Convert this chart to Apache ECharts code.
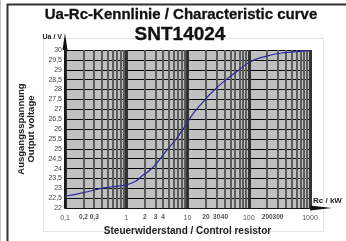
<!DOCTYPE html>
<html><head><meta charset="utf-8">
<script src="https://cdn.jsdelivr.net/npm/echarts@6/dist/echarts.min.js"></script>
<style>html,body{margin:0;padding:0;background:#fff}#c{width:346px;height:241px}</style>
</head><body><div id="c"></div>
<script>
// curve data: control resistor (kΩ) vs output voltage (V)
var resistance = [0.1, 0.2, 0.37, 0.6, 1, 1.4, 1.88, 2.5, 3.1, 4.5, 6.55, 8.9, 12.2, 17.7, 25.8, 42.6, 70, 102, 190, 355, 1000];
var voltage    = [22.6, 22.78, 22.98, 23.08, 23.18, 23.35, 23.67, 23.95, 24.25, 24.9, 25.5, 26.1, 26.75, 27.35, 27.9, 28.5, 29.0, 29.38, 29.68, 29.85, 29.97];
// grid / tick values
var minorLines = [0.2,0.3,0.4,0.5,0.6,0.7,0.8,0.9, 2,3,4,5,6,7,8,9, 20,30,40,50,60,70,80,90, 200,300,400,500,600,700,800,900];
var boldTickValues = [0.2, 0.3, 2, 3, 4, 20, 30, 40, 200, 300];
var boldTickLabels = ['0,2','0,3','2','3','4','20','30','40','200','300'];
var yMin = 22, yMax = 30, yStep = 0.5;
var xMin = 0.1, xMax = 1000;

var chart = echarts.init(document.getElementById('c'), null, {renderer:'canvas'});
var font = 'Liberation Sans, Arial, sans-serif';
chart.setOption({
  animation:false,
  backgroundColor:'#fff',
  grid:{left:65, right:36, top:50, bottom:31, show:true, backgroundColor:'#c0c0c0', borderWidth:0},
  graphic:[
    {type:'rect', shape:{x:43.5,y:38.5,width:280,height:193}, style:{fill:'none',stroke:'#e4e4e4',lineWidth:1}, z:-10, silent:true},
    {type:'line', shape:{x1:0.5,y1:0,x2:0.5,y2:241}, style:{stroke:'#c8c8c8',lineWidth:1}, silent:true},
    {type:'line', shape:{x1:7.5,y1:4,x2:7.5,y2:241}, style:{stroke:'#333',lineWidth:2}, silent:true},
    {type:'line', shape:{x1:7,y1:4.5,x2:346,y2:4.5}, style:{stroke:'#333',lineWidth:2}, silent:true},
    {type:'text', x:181, y:15, style:{text:'Ua-Rc-Kennlinie / Characteristic curve', font:'bold 15px '+font, fill:'#111', stroke:'#111', lineWidth:0.3, textAlign:'center', textVerticalAlign:'middle'}, silent:true},
    {type:'text', x:180, y:35, style:{text:'SNT14024', font:'bold 19px '+font, fill:'#111', stroke:'#111', lineWidth:0.3, textAlign:'center', textVerticalAlign:'middle'}, silent:true}
  ],
  xAxis:[{
    type:'log', logBase:10, min:xMin, max:xMax,
    name:'Steuerwiderstand / Control resistor', nameLocation:'middle', nameGap:15,
    nameTextStyle:{fontFamily:font, fontWeight:'bold', fontSize:10, color:'#222'},
    axisLine:{show:true, onZero:false, lineStyle:{color:'#111', width:1}, symbol:['none','triangle'], symbolSize:[5,22], symbolOffset:[0,11]},
    axisTick:{show:false},
    axisLabel:{fontFamily:font, fontSize:7, color:'#555', margin:6, formatter:function(v){return String(v).replace('.',',');}},
    splitLine:{show:true, lineStyle:{color:'#333', width:3}}
  },{
    type:'log', logBase:10, min:xMin, max:xMax, position:'bottom',
    name:'Rc / kW', nameLocation:'end', nameGap:3,
    nameTextStyle:{fontFamily:font, fontWeight:'bold', fontSize:8, color:'#222', verticalAlign:'bottom', padding:[0,0,3,0]},
    axisLine:{show:false}, axisTick:{show:false}, axisLabel:{show:false}, splitLine:{show:false}
  }],
  yAxis:[{
    type:'value', min:yMin, max:yMax, interval:yStep,
    name:'Ausgangsspannung\nOutput voltage', nameLocation:'middle', nameRotate:90, nameGap:29,
    nameTextStyle:{fontFamily:font, fontWeight:'bold', fontSize:9.5, color:'#222', lineHeight:10},
    axisLine:{show:true, lineStyle:{color:'#111', width:1.5}, symbol:['none','triangle'], symbolSize:[5,17], symbolOffset:[0,8.5]},
    axisTick:{show:false},
    axisLabel:{fontFamily:font, fontSize:7, color:'#444', margin:3, formatter:function(v){return String(v).replace('.',',');}},
    splitLine:{show:true, lineStyle:{color:'#000', width:1}}
  },{
    type:'value', min:yMin, max:yMax, interval:yStep,
    name:'Ua / V', nameLocation:'end', nameGap:9,
    nameTextStyle:{fontFamily:font, fontWeight:'bold', fontSize:7, color:'#222', align:'right', padding:[0,3,0,0]},
    position:'left',
    axisLine:{show:false}, axisTick:{show:false}, axisLabel:{show:false}, splitLine:{show:false}
  }],
  series:[{
    type:'line', data:[], z:1, silent:true,
    markLine:{silent:true, symbol:['none','none'], label:{show:false}, animation:false,
      lineStyle:{color:'#5c5c5c', width:2, type:'solid'},
      data: minorLines.map(function(v){return {xAxis:v};})}
  },{
    type:'scatter', z:3, silent:true, clip:false, symbolSize:0,
    data: boldTickValues.map(function(v,i){return {value:[v,yMin], name:boldTickLabels[i]};}),
    label:{show:true, position:'bottom', distance:6, formatter:'{b}', fontFamily:font, fontSize:6.5, fontWeight:'bold', color:'#222'}
  },{
    type:'line', z:5, smooth:true, symbol:'none',
    data: resistance.map(function(r,i){return [r, voltage[i]];}),
    lineStyle:{color:'#2a2a9c', width:1.2}
  }]
});
</script></body></html>
